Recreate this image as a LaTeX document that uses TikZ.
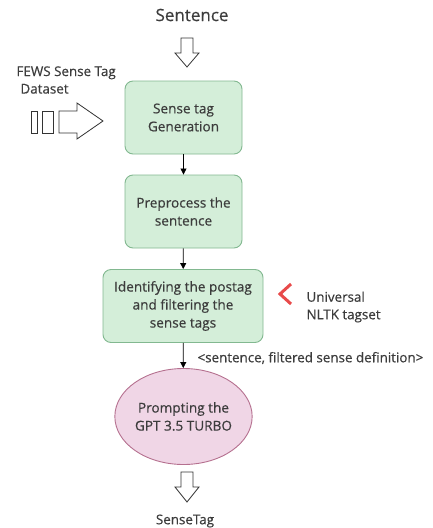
\documentclass[tikz,border=0pt]{standalone}
\usepackage{fontspec}
\setmainfont{Open Sans}[UprightFeatures={FakeBold=0.5}]
\usetikzlibrary{shapes.geometric,arrows.meta}
\definecolor{boxfill}{HTML}{D4EED9}
\definecolor{boxline}{HTML}{82B890}
\definecolor{gptfill}{HTML}{F0D6E6}
\definecolor{gptline}{HTML}{B5708F}
\definecolor{txt}{HTML}{3C3C3C}
\definecolor{chevronred}{HTML}{E84A4A}
\tikzset{
  stagebox/.style={draw=boxline, fill=boxfill, line width=0.9pt, rounded corners=8pt,
    minimum height=73pt, align=center, text=txt, inner sep=2pt,
    font=\fontsize{13.6}{18}\selectfont},
  gptnode/.style={ellipse, draw=gptline, fill=gptfill, line width=0.9pt,
    minimum width=117pt, minimum height=96pt, inner sep=0pt, align=center, text=txt,
    font=\fontsize{13.6}{18}\selectfont},
  flow/.style={-{Triangle[length=6pt,width=6pt]}, line width=0.8pt},
  hollow/.style={draw=black!80, line width=0.8pt, fill=white},
  note/.style={text=txt, font=\fontsize{13.4}{17.5}\selectfont}
}
\begin{document}
\begin{tikzpicture}[x=1pt,y=-1pt]
      \useasboundingbox (0,0) rectangle (432,528);
      % stages
      \node [stagebox, minimum width=117pt] (gen) at (183.5,117.5) {Sense tag\\Generation};
      \node [stagebox, minimum width=117pt] (prep) at (183.5,211.5) {Preprocess the\\sentence};
      \node [stagebox, minimum width=160pt] (pos) at (183,306) {Identifying the postag\\and filtering the\\sense tags};
      \node [gptnode] (gpt) at (183.5,416.5) {Prompting the\\GPT 3.5 TURBO};
      % texts
      \node [text=txt, font=\fontsize{17}{20}\selectfont] (sent) at (192,15) {Sentence};
      \node [note, align=left, anchor=west] (fews) at (13,80) {FEWS Sense Tag\\\hspace{4pt}Dataset};
      \node [note, align=left, anchor=west] (nltk) at (303,307) {Universal\\NLTK tagset};
      \node [note, anchor=west] (pair) at (194,358) {<sentence, filtered sense definition>};
      \node [note] (out) at (185,521) {SenseTag};
      % flow lines
      \draw [flow] (gen) -- (prep);
      \draw [flow] (prep) -- (pos);
      \draw [flow] (pos) -- (gpt);
      % hollow arrows
      \draw [hollow] (181,38) -- (193,38) -- (193,53) -- (199,53) -- (187,67)
        -- (175,53) -- (181,53) -- cycle;
      \draw [hollow] (181,472) -- (193,472) -- (193,487) -- (199,487) -- (187,502)
        -- (175,487) -- (181,487) -- cycle;
      \draw [hollow] (31,111) rectangle (37,133);
      \draw [hollow] (42,111) rectangle (53,133);
      \draw [hollow] (59,111) -- (77,111) -- (77,103) -- (103,121) -- (77,139)
        -- (77,133) -- (59,133) -- cycle;
      % tagset marker
      \draw [chevronred, line width=3pt] (291,284) -- (280,294) -- (291,304);
    \end{tikzpicture}
\end{document}
